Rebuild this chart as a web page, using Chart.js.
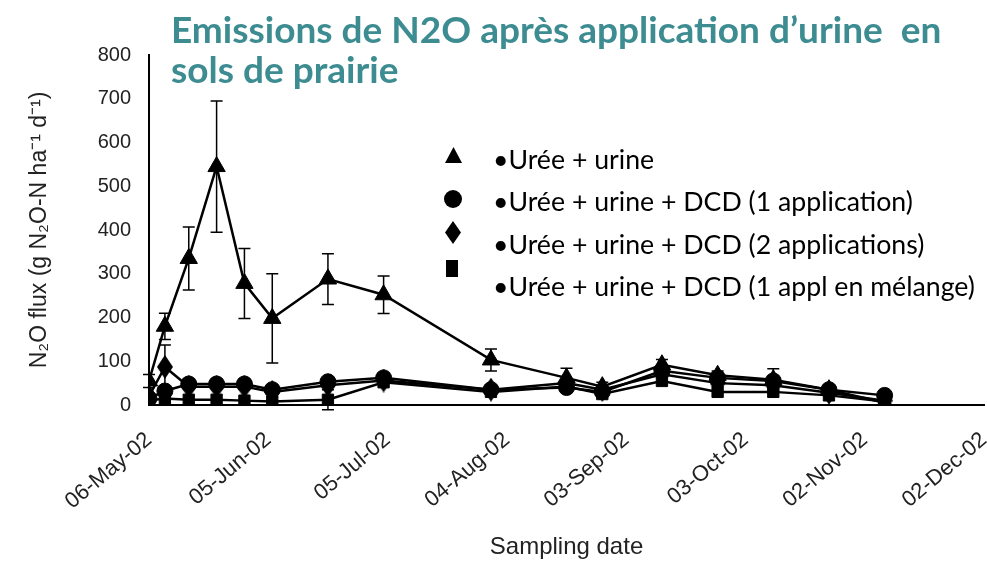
<!DOCTYPE html>
<html lang="fr">
<head>
  <meta charset="UTF-8">
  <title>Emissions de N2O après application d'urine</title>
  <script src="https://cdn.jsdelivr.net/npm/chart.js"></script>
  <style>
    body { margin: 0; background: #fff; }
    .wrap { position: relative; width: 987px; height: 570px; overflow: hidden; }
    .title {
      position: absolute; left: 171px; top: 9px;
      font-family: Lato, sans-serif; font-weight: bold; font-size: 37px;
      line-height: 40px; color: #3d8c91; white-space: pre;
    }
    .txt {
      position: absolute; left: 493px; white-space: pre;
      font-family: Lato, sans-serif; font-size: 26.7px; line-height: 32px; color: #000;
    }
    .mk { position: absolute; background: #000; }
    .mk.tri { clip-path: polygon(50% 0, 100% 100%, 0 100%); }
    .mk.dot { border-radius: 50%; }
    .mk.dia { clip-path: polygon(50% 0, 100% 50%, 50% 100%, 0 50%); }
  </style>
</head>
<body>
<div class="wrap" id="wrap">
  <!-- a bit wider than the window: the space Chart.js keeps for the last rotated label falls outside -->
  <canvas id="chart" width="1015" height="570"></canvas>
  <div class="title">Emissions de N2O après application d’urine  en
sols de prairie</div>
</div>
<script>
  // sampling days counted from 06-May-02
  const sampleDays = [0, 4, 10, 17, 24, 31, 45, 59, 86, 105, 114, 129, 143, 157, 171, 185];

  const seriesNames = [
    '•Urée + urine',
    '•Urée + urine + DCD (1 application)',
    '•Urée + urine + DCD (2 applications)',
    '•Urée + urine + DCD (1 appl en mélange)'
  ];

  const ureaUrine  = [55, 180, 335, 545, 278, 198, 288, 252, 103, 62, 42, 92, 68, 58, 35, 5];
  const dcdOne     = [15, 32, 48, 48, 48, 35, 53, 62, 35, 40, 30, 78, 62, 55, 35, 22];
  const dcdTwo     = [20, 87, 42, 42, 42, 30, 45, 56, 35, 50, 35, 70, 50, 45, 28, 10];
  const dcdMix     = [10, 15, 12, 12, 10, 8, 12, 52, 30, 42, 25, 55, 30, 30, 22, 8];

  const ureaUrineErr = [15, 30, 72, 150, 80, 102, 58, 43, 25, 22, 10, 12, 10, 25, 8, 3];
  const dcdOneErr    = [0, 0, 0, 0, 0, 0, 0, 0, 0, 0, 0, 0, 0, 0, 0, 0];
  const dcdTwoErr    = [0, 50, 0, 0, 0, 0, 0, 0, 0, 0, 0, 0, 0, 0, 0, 0];
  const dcdMixErr    = [0, 0, 0, 0, 0, 0, 23, 0, 0, 0, 0, 0, 0, 0, 0, 0];

  const tickDays   = [0, 30, 60, 90, 120, 150, 180, 210];
  const tickLabels = ['06-May-02', '05-Jun-02', '05-Jul-02', '04-Aug-02', '03-Sep-02', '03-Oct-02', '02-Nov-02', '02-Dec-02'];

  // tall diamond marker
  const diamond = document.createElement('canvas');
  diamond.width = 16; diamond.height = 24;
  const dctx = diamond.getContext('2d');
  dctx.fillStyle = '#000';
  dctx.beginPath();
  dctx.moveTo(8, 0); dctx.lineTo(16, 12); dctx.lineTo(8, 24); dctx.lineTo(0, 12);
  dctx.closePath(); dctx.fill();

  const toPoints = vals => vals.map((v, i) => ({ x: sampleDays[i], y: v }));

  const mkSet = (label, vals, err, style, radius) => ({
    label: label,
    data: toPoints(vals),
    errors: err,
    borderColor: '#000',
    backgroundColor: '#000',
    borderWidth: 2.5,
    pointStyle: style,
    pointRadius: radius,
    pointBorderWidth: 1,
    tension: 0
  });

  const errorBars = {
    id: 'errorBars',
    afterDatasetsDraw(chart) {
      const c = chart.ctx;
      const xs = chart.scales.x, ys = chart.scales.y;
      c.save();
      c.strokeStyle = '#000';
      c.lineWidth = 1.5;
      chart.data.datasets.forEach(ds => {
        ds.data.forEach((p, i) => {
          const e = ds.errors[i];
          if (!e) return;
          const x = xs.getPixelForValue(p.x);
          const y1 = ys.getPixelForValue(p.y + e);
          const y2 = ys.getPixelForValue(p.y - e);
          c.beginPath();
          c.moveTo(x, y1); c.lineTo(x, y2);
          c.moveTo(x - 6, y1); c.lineTo(x + 6, y1);
          c.moveTo(x - 6, y2); c.lineTo(x + 6, y2);
          c.stroke();
        });
      });
      c.restore();
    }
  };

  new Chart(document.getElementById('chart'), {
    type: 'line',
    data: {
      datasets: [
        mkSet(seriesNames[0], ureaUrine, ureaUrineErr, 'triangle', 10),
        mkSet(seriesNames[1], dcdOne, dcdOneErr, 'circle', 8),
        mkSet(seriesNames[2], dcdTwo, dcdTwoErr, diamond, 10),
        mkSet(seriesNames[3], dcdMix, dcdMixErr, 'rect', 8)
      ]
    },
    options: {
      responsive: false,
      animation: false,
      layout: { padding: { top: 55, right: 0, left: 0, bottom: 0 } },
      plugins: { legend: { display: false }, tooltip: { enabled: false } },
      scales: {
        x: {
          type: 'linear',
          min: 0,
          max: 210,
          grid: { display: false, drawOnChartArea: false, tickLength: 8, tickColor: '#000', tickWidth: 2 },
          border: { color: '#000', width: 2 },
          afterBuildTicks: s => { s.ticks = tickDays.map(v => ({ value: v })); },
          afterFit: s => { s.height = 165; },
          ticks: {
            minRotation: 40, maxRotation: 40, autoSkip: false, padding: 14,
            color: '#222',
            font: { family: 'Liberation Sans', size: 22 },
            callback: (v, i) => tickLabels[i]
          },
          title: {
            display: true, text: 'Sampling date', color: '#222',
            font: { family: 'Liberation Sans', size: 24 },
            padding: { top: 0, bottom: 8 }
          }
        },
        y: {
          min: 0,
          max: 800,
          grid: { display: false, drawOnChartArea: false, tickLength: 8, tickColor: '#000', tickWidth: 2 },
          border: { color: '#000', width: 2 },
          afterFit: s => { s.width = 149; },
          ticks: {
            stepSize: 100, padding: 10, color: '#222',
            font: { family: 'Liberation Sans', size: 20 }
          },
          title: {
            display: true, text: 'N₂O flux (g N₂O-N ha⁻¹ d⁻¹)', color: '#222',
            font: { family: 'Liberation Sans', size: 23 },
            padding: { top: 26, bottom: 0 }
          }
        }
      }
    },
    plugins: [errorBars]
  });

  // legend overlay: markers sit a little above their text lines
  const markerKinds = ['tri', 'dot', 'dia', 'sq'];
  const markerBoxes = [[445, 147, 17, 16], [444, 190, 18, 18], [445, 221, 16, 23], [446, 260, 12, 17]];
  const textTops = [143, 185, 228, 270];
  const wrap = document.getElementById('wrap');
  seriesNames.forEach((name, i) => {
    const m = document.createElement('div');
    m.className = 'mk ' + markerKinds[i];
    const b = markerBoxes[i];
    m.style.left = b[0] + 'px'; m.style.top = b[1] + 'px';
    m.style.width = b[2] + 'px'; m.style.height = b[3] + 'px';
    wrap.appendChild(m);
    const t = document.createElement('div');
    t.className = 'txt';
    t.style.top = textTops[i] + 'px';
    t.textContent = name;
    wrap.appendChild(t);
  });
</script>
</body>
</html>
